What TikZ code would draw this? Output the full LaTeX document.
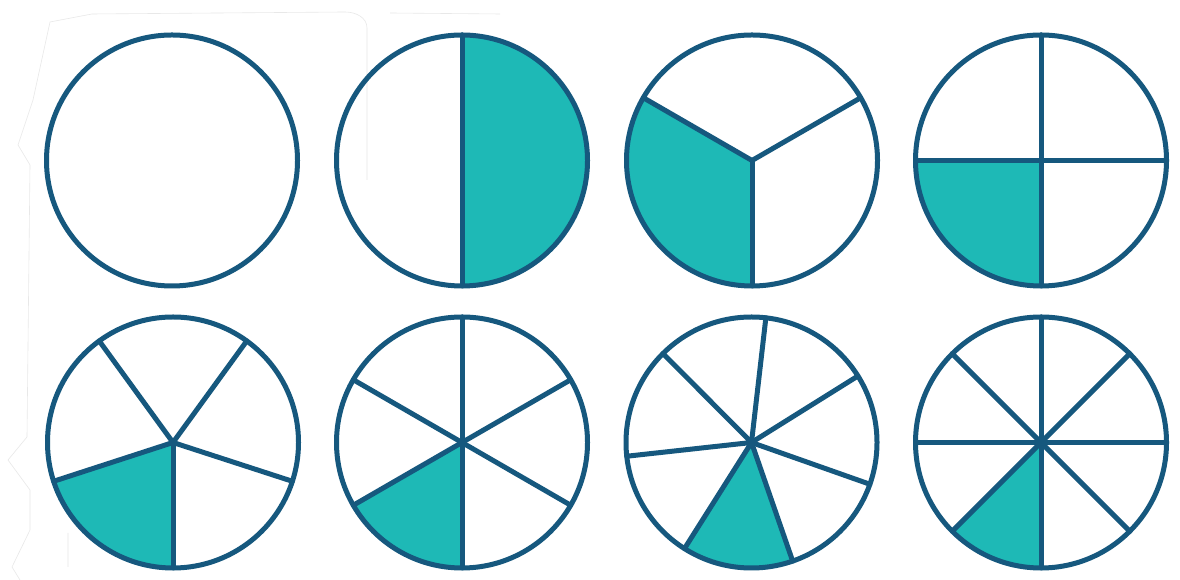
\documentclass[tikz,border=0pt]{standalone}
\definecolor{rimc}{RGB}{22,88,126}
\definecolor{fillc}{RGB}{30,185,182}
\newcommand\fracpie[4]{% center, n, base angle, filled index
  \fill[wedge] (#1) -- ++({#3+#4*360/#2}:\R) arc[start angle={#3+#4*360/#2}, delta angle={360/#2}, radius=\R] -- cycle;
  \foreach \k in {1,...,#2} \draw[spoke] (#1) -- ++({#3+\k*360/#2}:\R);
  \draw[rim] (#1) circle[radius=\R];
}
\begin{document}
\begin{tikzpicture}[x=1pt,y=1pt,
  rim/.style={draw=rimc,line width=5pt},
  spoke/.style={draw=rimc,line width=5pt,line cap=round},
  wedge/.style={fill=fillc},
  ghost/.style={draw=black!9,line width=0.6pt}]
\useasboundingbox (0,0) rectangle (1180,580);
\fill[white] (0,0) rectangle (1180,580);
\def\R{125.5pt}
% faint cut-out outline (y = 580 - pixel row)
\draw[ghost] (50,558) -- (92,566) -- (345,568) to[out=0,in=90] (367,552) -- (367,400)
  (30,415) -- (18,435) -- (33,480) -- (50,558)
  (30,415) -- (27,143) -- (8,120) -- (30,90) -- (30,50) -- (12,13) -- (20,0)
  (68,47) -- (68,13)
  (390,567) -- (500,566);
% centres
\coordinate (c1) at (172,419.5);
\coordinate (c2) at (462,419.5);
\coordinate (c3) at (752,419.5);
\coordinate (c4) at (1041,419.5);
\coordinate (c5) at (173,137.5);
\coordinate (c6) at (462,137.5);
\coordinate (c7) at (751.5,137.5);
\coordinate (c8) at (1041,137.5);
% whole
\draw[rim] (c1) circle[radius=\R];
\fracpie{c2}{2}{90}{1}
\fracpie{c3}{3}{30}{1}
\fracpie{c4}{4}{0}{2}
\fracpie{c5}{5}{54}{2}
\fracpie{c6}{6}{90}{2}
\fracpie{c7}{7}{32}{4}
\fracpie{c8}{8}{0}{5}
\end{tikzpicture}
\end{document}
